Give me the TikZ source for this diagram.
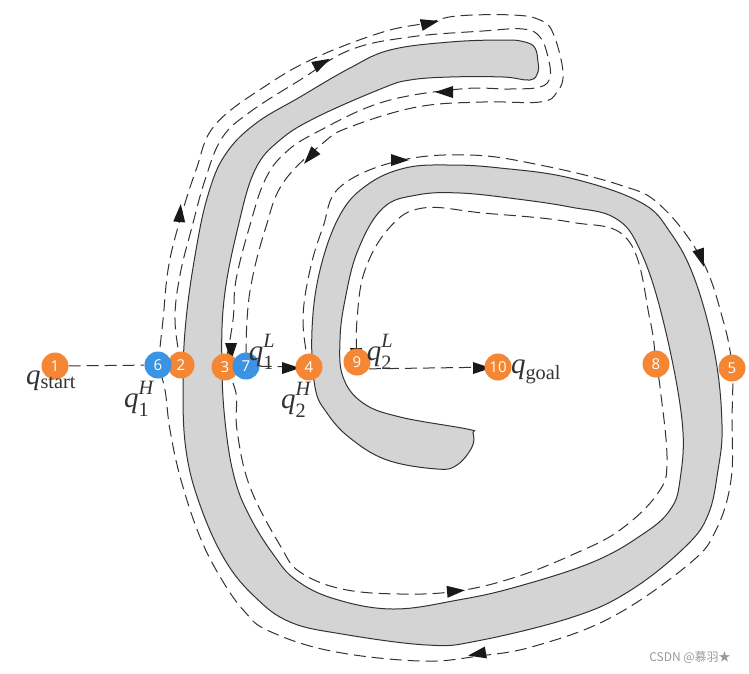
\documentclass[tikz,border=0pt]{standalone}
\usepackage{fontspec}
\setmainfont{Liberation Serif}
\newfontfamily\numfont{Open Sans}
\newfontfamily\markfont{Noto Sans CJK SC}
\usetikzlibrary{backgrounds}
\newcommand{\qhit}[2]{$\mathit{q}_{\raisebox{-3pt}{$\scriptstyle\mathrm{#1}$}}^{\raisebox{4pt}{$\scriptstyle\mathit{#2}$}}$}

\begin{document}
\begin{tikzpicture}[x=1pt,y=-1pt]
  % Settings
  \tikzset{
    stop/.style={circle, fill=#1, inner sep=0pt, minimum size=27pt, text=white, font=\numfont\fontsize{15}{15}\selectfont},
    route/.style={draw=black!80, line width=1pt, dash pattern=on 12pt off 6pt},
    wall/.style={draw=black!80, fill=black!17, line width=1pt},
    head/.style={fill=black!90},
    lab/.style={text=black!80, inner sep=0pt, font=\fontsize{29}{32}\selectfont},
  }
  \definecolor{stoporange}{HTML}{F58634}
  \definecolor{stopblue}{HTML}{3B93E3}
  \useasboundingbox (0,0) rectangle (749,673);

  % Stops
  \foreach \n/\x/\y/\c in {1/55/366/stoporange, 2/181/365/stoporange, 6/158/365/stopblue,
    3/225/367/stoporange, 7/246/366/stopblue, 4/309/367/stoporange, 9/357/362/stoporange,
    10/498/367/stoporange, 8/656/364/stoporange, 5/732/368/stoporange}
    {\node[stop=\c] (p\n) at (\x,\y) {\n};}

  % Labels
  \node[lab] (lstart) at (51,381) {$\mathit{q}_{\mathrm{start}}$};
  \node[lab] (lh1) at (139,399) {\qhit{1}{H}};
  \node[lab] (ll1) at (262,352) {\qhit{1}{L}};
  \node[lab] (lh2) at (296,400) {\qhit{2}{H}};
  \node[lab] (ll2) at (380,352) {\qhit{2}{L}};
  \node[lab] (lgoal) at (536,372) {$\mathit{q}_{\mathrm{goal}}$};
  \node[text=black!40, inner sep=0pt, font=\markfont\fontsize{12}{12}\selectfont] (wmark) at (690,657) {CSDN @慕羽★};

  \begin{scope}[on background layer]
    % Obstacle
    \draw[wall] plot[smooth cycle, tension=.65] coordinates {
      (538,62) (535,48) (525,42) (505,40) (450,42) (390,50) (350,68) (300,97) (255,124)
      (225,155) (208,195) (196,250) (186,320) (183,385) (186,450) (200,505)
      (225,560) (255,597) (290,622) (342,634) (427,645) (477,641) (573,617) (631,590)
      (685,547) (708,515) (718,470) (722,425) (715,355) (695,280) (670,232) (640,202)
      (570,178) (500,168) (450,165) (405,168) (367,185) (340,215) (320,270)
      (312,330) (315,387) (327,413) (350,438) (387,460) (437,469) (457,465) (472,447)
      (473,433) (467,429) (400,417) (363,403) (343,377) (340,340) (345,300) (358,250)
      (383,208) (417,195) (460,193) (517,199) (570,207) (615,218) (640,250)
      (663,320) (682,420) (680,480) (670,510) (643,534) (593,562) (516,587) (458,600)
      (393,609) (335,599) (296,580) (273,554) (250,517) (235,480) (226,430) (222,370)
      (224,300) (238,227) (255,170) (280,140) (317,117) (383,88) (410,80)
      (450,77) (503,77) (530,80) (538,72)};

    % Routes
    \draw[route] (p1) -- (p6);
    \draw[route] (p7) -- (p4);
    \draw[route] (p9.-30) -- (p10);
    \draw[route] plot[smooth, tension=.65] coordinates {
      (p2) (175,320) (180,275) (192,227) (205,180) (222,138) (250,112) (300,80) (350,50)
      (410,37) (483,31) (523,29) (540,37) (548,57) (550,77) (540,87) (510,89) (460,89)
      (383,102) (317,132) (285,153) (265,180) (250,225) (236,280) (233,320) (p3)};
    \draw[route] plot[smooth, tension=.65] coordinates {
      (p6) (163,320) (168,270) (178,227) (196,170) (215,125) (267,85) (317,57)
      (383,32) (427,23) (457,16) (513,15) (540,20) (553,33) (563,72) (557,92) (540,102)
      (483,102) (417,107) (350,127) (323,143) (283,183) (265,230) (252,280) (247,320) (p7)};
    \draw[route] plot[smooth, tension=.65] coordinates {
      (p4) (303,320) (310,270) (323,227) (340,187) (398,161) (470,155) (540,165) (620,185)
      (660,205) (701,258) (723,320) (p5) (732,420) (731,480) (716,530) (689,564) (612,617)
      (535,646) (479,656) (420,661) (331,651) (269,631) (245,612) (222,580) (200,537) (181,480)
      (170,430) (165,390) (p6)};
    \draw[route] plot[smooth, tension=.65] coordinates {
      (p3) (236,393) (237,430) (250,487) (281,547) (300,572) (342,589) (400,594) (458,591)
      (516,577) (574,554) (620,530) (658,493) (667,460) (660,387) (p8) (650,320) (628,240)
      (570,222) (483,213) (423,208) (390,227) (365,270) (357,320) (p9)};

    % Arrow heads
    \foreach \x/\y/\a in {180/213/85, 322/63/28, 430/23/13, 444/92/180, 310/157/229, 400/160/0,
      701/258/-72, 231/352/-90, 291/368/0, 482/368/0, 456/591/5, 477/654/190, 356/357/-90}
      {\fill[head, shift={(\x,\y)}, rotate=\a] (9,0) -- (-9,6) -- (-9,-6) -- cycle;}
  \end{scope}
\end{tikzpicture}
\end{document}
